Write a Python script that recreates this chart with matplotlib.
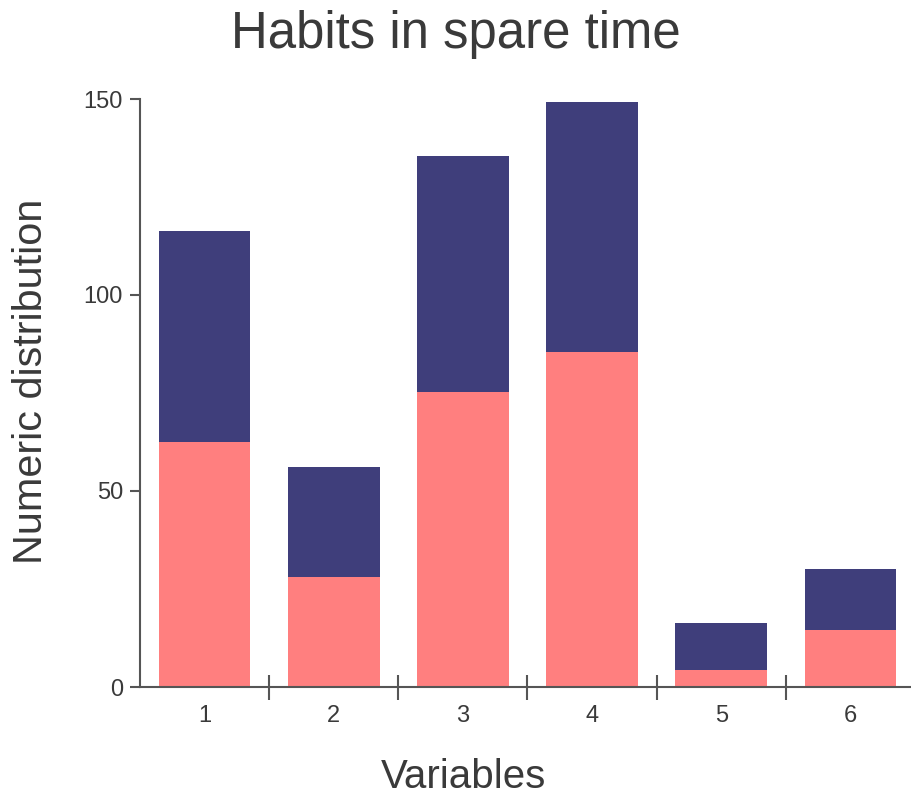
import numpy as np
import matplotlib
matplotlib.use('Agg')
import matplotlib.pyplot as plt
from matplotlib.ticker import FixedLocator, NullFormatter

plt.rcParams['font.family'] = ['Liberation Sans', 'DejaVu Sans']

# 数据
categories = ['1', '2', '3', '4', '5', '6']
bottom_vals = [62.5, 28.1, 75.3, 85.5, 4.3, 14.5]   # 粉色部分
top_vals = [53.8, 28.0, 60.2, 63.7, 12.0, 15.6]     # 深蓝部分（叠加在上面）
y_ticks = [0, 50, 100, 150]

text_color = '#3a3a3a'
axis_color = '#555555'

fig = plt.figure(figsize=(9.11, 7.96), dpi=100)
ax = fig.add_axes([140 / 911, 109 / 796, 775 / 911, 588 / 796])

x = np.arange(1, len(categories) + 1)
ax.bar(x, bottom_vals, width=0.71, color='#ff7f7f')
ax.bar(x, top_vals, width=0.71, bottom=bottom_vals, color='#3f3e7b')

ax.set_xlim(0.5, 6.5)
ax.set_ylim(0, 150)

# 坐标轴样式
for side in ['top', 'right']:
    ax.spines[side].set_visible(False)
for side in ['left', 'bottom']:
    ax.spines[side].set_color(axis_color)
    ax.spines[side].set_linewidth(1.5)

ax.set_yticks(y_ticks)
ax.tick_params(axis='y', length=7.2, width=1.5, color=axis_color, pad=5,
               labelsize=17, labelcolor=text_color)

# x轴: 分隔刻度在类别之间, 标签在类别中心
ax.xaxis.set_major_locator(FixedLocator(x[:-1] + 0.5))
ax.xaxis.set_major_formatter(NullFormatter())
ax.xaxis.set_minor_locator(FixedLocator(x))
ax.set_xticklabels(categories, minor=True)
ax.tick_params(axis='x', which='major', direction='inout', length=18,
               width=1.5, color=axis_color)
ax.tick_params(axis='x', which='minor', length=0, pad=13,
               labelsize=17, labelcolor=text_color)

fig.text(456 / 911, 1 - 48 / 796, 'Habits in spare time', ha='center',
         va='baseline', fontsize=36.7, color=text_color)
fig.text(464 / 911, 1 - 788 / 796, 'Variables', ha='center', va='baseline',
         fontsize=29, color=text_color)
fig.text(31 / 911, 1 - 381 / 796, 'Numeric distribution', ha='center',
         va='center', rotation=90, fontsize=29.8, color=text_color)

fig.savefig('out.png', dpi=100)
